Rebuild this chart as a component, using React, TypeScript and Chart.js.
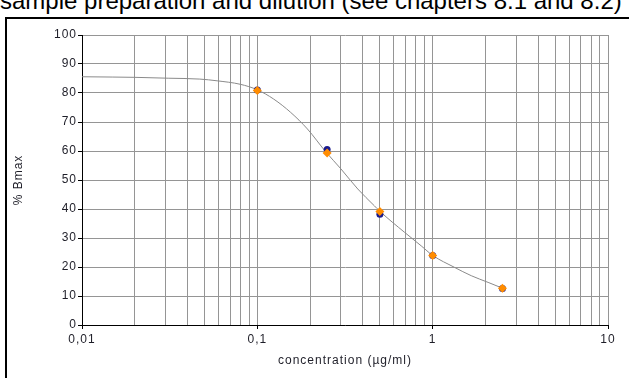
import React, { useEffect, useRef } from 'react';
import { Chart, registerables } from 'chart.js';

Chart.register(...registerables);

// ---- data ----
const pointConc = [0.1, 0.25, 0.5, 1, 2.5];
const seriesBlue = [81.0, 60.5, 38.2, 24.0, 12.6];
const seriesOrange = [80.9, 59.3, 39.1, 24.0, 12.7];

const curveConc = [0.01, 0.015, 0.02, 0.031, 0.047, 0.059, 0.08, 0.1, 0.124, 0.155, 0.193, 0.245, 0.3, 0.374, 0.465, 0.5, 0.69, 0.86, 1.0, 1.33, 1.66, 2.07, 2.5];
const curveVal = [85.6, 85.5, 85.4, 85.1, 84.8, 84.2, 83.0, 81.1, 77.9, 73.3, 67.6, 59.8, 53.8, 46.9, 41.1, 39.2, 32.0, 27.3, 24.0, 19.9, 17.0, 14.7, 12.7];

const gridTicks = [
  0.01, 0.02, 0.03, 0.04, 0.05, 0.06, 0.07, 0.08, 0.09,
  0.1, 0.2, 0.3, 0.4, 0.5, 0.6, 0.7, 0.8, 0.9,
  1, 2, 3, 4, 5, 6, 7, 8, 9,
  10,
];
const majorTicks = [0.01, 0.1, 1, 10];
const majorLabels = ['0,01', '0,1', '1', '10'];

const yTitle = '% Bmax';
const xTitle = 'concentration (µg/ml)';
const caption = 'sample preparation and dilution (see chapters 8.1 and 8.2)';

const FONT = "'Liberation Sans', Arial, sans-serif";
const TEXT = '#1e1e28';

const spacingPlugin = {
  id: 'letterSpacing',
  beforeDraw: (chart: any) => {
    try {
      chart.ctx.letterSpacing = '1px';
    } catch (e) {
      /* ignore */
    }
  },
};

export default function App() {
  const ref = useRef<HTMLCanvasElement | null>(null);

  useEffect(() => {
    const canvas = ref.current;
    if (!canvas) return;
    const chart = new Chart(canvas, {
      type: 'scatter',
      data: {
        datasets: [
          {
            label: 'orange',
            data: pointConc.map((x, i) => ({ x, y: seriesOrange[i] })),
            pointStyle: 'rectRot',
            pointRadius: 4.5,
            backgroundColor: '#FF8C00',
            borderColor: '#FF8C00',
            borderWidth: 0,
            showLine: false,
            order: 0,
          },
          {
            label: 'blue',
            data: pointConc.map((x, i) => ({ x, y: seriesBlue[i] })),
            pointStyle: 'circle',
            pointRadius: 3.5,
            backgroundColor: '#1a1a8c',
            borderColor: '#1a1a8c',
            borderWidth: 0,
            showLine: false,
            order: 1,
          },
          {
            label: 'fit',
            data: curveConc.map((x, i) => ({ x, y: curveVal[i] })),
            showLine: true,
            borderColor: '#8a8a8a',
            borderWidth: 1,
            pointRadius: 0,
            cubicInterpolationMode: 'monotone',
            fill: false,
            order: 2,
          },
        ],
      },
      plugins: [spacingPlugin],
      options: {
        animation: false,
        responsive: false,
        devicePixelRatio: 1,
        layout: { padding: { left: 0, top: 35, right: 21, bottom: 0 } },
        plugins: { legend: { display: false }, tooltip: { enabled: false } },
        scales: {
          x: {
            type: 'logarithmic',
            min: 0.01,
            max: 10,
            afterFit: (s: any) => { s.height = 53; },
            afterBuildTicks: (s: any) => {
              s.ticks = gridTicks.map((v) => ({ value: v, major: majorTicks.includes(v) }));
            },
            grid: {
              color: '#959595',
              lineWidth: 1,
              drawTicks: true,
              tickLength: 4,
              tickColor: (ctx: any) => (ctx.tick && ctx.tick.major ? '#000' : 'rgba(0,0,0,0)'),
            },
            border: { display: true, color: '#000', width: 1 },
            ticks: {
              autoSkip: false,
              maxRotation: 0,
              minRotation: 0,
              padding: 3,
              color: TEXT,
              font: { family: FONT, size: 12 },
              callback: (value: any) => {
                const idx = majorTicks.findIndex((m) => Math.abs(m - Number(value)) < 1e-9);
                return idx >= 0 ? majorLabels[idx] : '';
              },
            },
            title: {
              display: true,
              text: xTitle,
              color: TEXT,
              font: { family: FONT, size: 12 },
              padding: { top: 0, bottom: 10 },
            },
          },
          y: {
            type: 'linear',
            min: 0,
            max: 100,
            afterFit: (s: any) => { s.width = 82; },
            grid: {
              color: '#959595',
              lineWidth: 1,
              drawTicks: true,
              tickLength: 4,
              tickColor: '#000',
            },
            border: { display: true, color: '#000', width: 1 },
            ticks: {
              stepSize: 10,
              padding: 1,
              color: TEXT,
              font: { family: FONT, size: 12 },
            },
            title: {
              display: true,
              text: yTitle,
              color: TEXT,
              font: { family: FONT, size: 12 },
              padding: { top: 11, bottom: 0 },
            },
          },
        },
      },
    } as any);
    return () => chart.destroy();
  }, []);

  return (
    <div
      style={{
        position: 'fixed',
        left: 0,
        top: 0,
        width: 629,
        height: 378,
        overflow: 'hidden',
        background: '#fff',
      }}
    >
      <div
        style={{
          position: 'absolute',
          left: 0,
          top: -11,
          whiteSpace: 'nowrap',
          fontFamily: FONT,
          fontSize: 24,
          lineHeight: '24px',
          color: '#000',
        }}
      >
        {caption}
      </div>
      <div
        style={{
          position: 'absolute',
          left: 5,
          top: 17,
          width: 700,
          height: 400,
          borderLeft: '2px solid #000',
          borderTop: '2px solid #000',
          boxSizing: 'border-box',
        }}
      />
      <canvas
        ref={ref}
        width={629}
        height={378}
        style={{ position: 'absolute', left: 0, top: 0, width: 629, height: 378, display: 'block' }}
      />
    </div>
  );
}
